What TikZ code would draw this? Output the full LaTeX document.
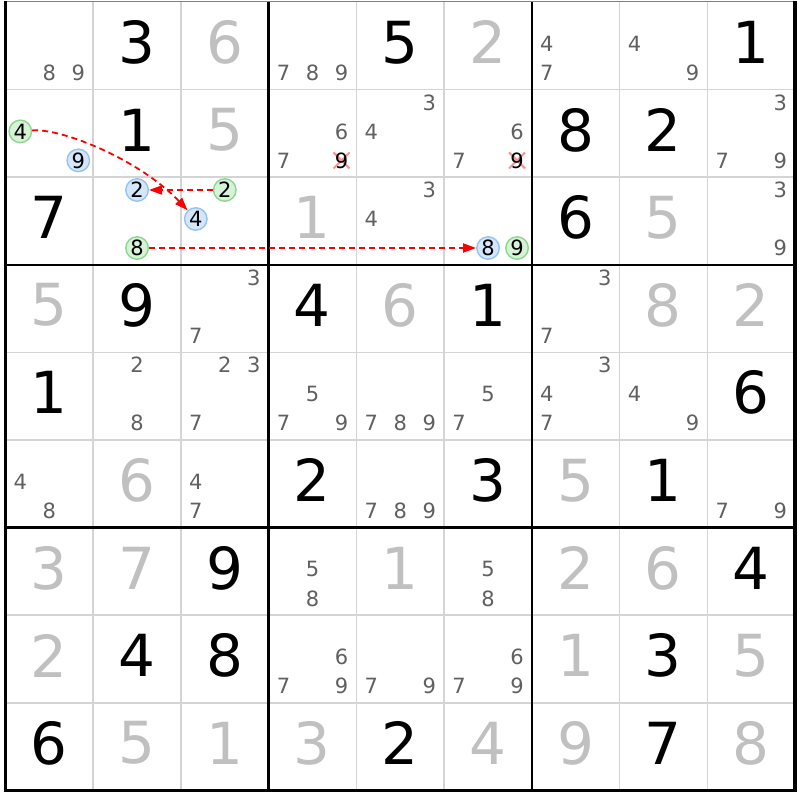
\documentclass[tikz,border=0pt]{standalone}
\usepackage{fontspec}
\setmainfont{DejaVu Sans}
\usetikzlibrary{arrows.meta}
\definecolor{solvd}{RGB}{192,192,192}
\definecolor{candc}{RGB}{96,96,96}
\definecolor{gridl}{RGB}{212,212,212}
\definecolor{gfill}{RGB}{215,243,215}
\definecolor{gdraw}{RGB}{140,215,140}
\definecolor{bfill}{RGB}{212,230,250}
\definecolor{bdraw}{RGB}{150,195,240}
\definecolor{xred}{RGB}{240,150,150}
\definecolor{linkred}{RGB}{255,0,0}
\newcommand{\cpos}[3]{%
  \pgfmathsetmacro\px{5.3+(#2-1)*87.75+15+29*mod(#3-1,3)}%
  \pgfmathsetmacro\py{2+(#1-1)*87.6+12.8+29*floor((#3-1)/3)}}
\newcommand{\cand}[4][cand]{\cpos{#2}{#3}{#4}\node[#1] (k#2#3#4) at (\px,\py) {#4};}
\newcommand{\givn}[4][given]{\node[#1] (v#2#3) at ({5.3+(#3-0.5)*87.75},{2+(#2-0.54)*87.6}) {#4};}
\newcommand{\xmark}[3]{\cpos{#1}{#2}{#3}\draw[xline] ({\px-8},{\py-8}) -- ({\px+8},{\py+8}) ({\px-8},{\py+8}) -- ({\px+8},{\py-8});}
\begin{document}
\begin{tikzpicture}[x=1pt,y=-1pt,
  given/.style={inner sep=0pt,font=\fontsize{58}{58}\selectfont,text=black},
  solved/.style={given,text=solvd},
  cand/.style={inner sep=0pt,font=\fontsize{21}{21}\selectfont,text=candc},
  elim/.style={cand,text=black},
  gcirc/.style={circle,draw=gdraw,fill=gfill,line width=1.4pt,minimum size=22.5pt,inner sep=0pt,font=\fontsize{21}{21}\selectfont,text=black},
  bcirc/.style={gcirc,draw=bdraw,fill=bfill},
  xline/.style={xred,line width=2pt},
  thinline/.style={gridl,line width=1.5pt},
  boxline/.style={black,line width=2.6pt},
  link/.style={linkred,line width=1.8pt,dash pattern=on 6pt off 4pt,-{Triangle[length=13pt,width=9pt]}}]
\useasboundingbox[fill=white] (0,0) rectangle (800,800);
% thin grid
\foreach \i in {1,2,4,5,7,8}{
  \draw[thinline] ({5.3+\i*87.75},2) -- ({5.3+\i*87.75},790.4);
  \draw[thinline] (5.3,{2+\i*87.6}) -- (795,{2+\i*87.6});
}
% box lines
\foreach \i in {3,6}{
  \draw[boxline] ({5.3+\i*87.75},2) -- ({5.3+\i*87.75},790.4);
  \draw[boxline] (5.3,{2+\i*87.6}) -- (795,{2+\i*87.6});
}
\draw[gray,line width=1pt] (5.3,2) -- (795,2);
\draw[black,line width=3.5pt] (5.3,1) -- (5.3,790.4) -- (795,790.4) -- (795,1);
% row 1
\cand{1}{1}{8}\cand{1}{1}{9}\givn{1}{2}{3}\givn[solved]{1}{3}{6}
\cand{1}{4}{7}\cand{1}{4}{8}\cand{1}{4}{9}\givn{1}{5}{5}\givn[solved]{1}{6}{2}
\cand{1}{7}{4}\cand{1}{7}{7}\cand{1}{8}{4}\cand{1}{8}{9}\givn{1}{9}{1}
% row 2
\cand[gcirc]{2}{1}{4}\cand[bcirc]{2}{1}{9}\givn{2}{2}{1}\givn[solved]{2}{3}{5}
\cand{2}{4}{6}\cand{2}{4}{7}\xmark{2}{4}{9}\cand[elim]{2}{4}{9}
\cand{2}{5}{3}\cand{2}{5}{4}
\cand{2}{6}{6}\cand{2}{6}{7}\xmark{2}{6}{9}\cand[elim]{2}{6}{9}
\givn{2}{7}{8}\givn{2}{8}{2}\cand{2}{9}{3}\cand{2}{9}{7}\cand{2}{9}{9}
% row 3
\givn{3}{1}{7}\cand[bcirc]{3}{2}{2}\cand[gcirc]{3}{2}{8}\cand[gcirc]{3}{3}{2}\cand[bcirc]{3}{3}{4}
\givn[solved]{3}{4}{1}\cand{3}{5}{3}\cand{3}{5}{4}\cand[bcirc]{3}{6}{8}\cand[gcirc]{3}{6}{9}
\givn{3}{7}{6}\givn[solved]{3}{8}{5}\cand{3}{9}{3}\cand{3}{9}{9}
% row 4
\givn[solved]{4}{1}{5}\givn{4}{2}{9}\cand{4}{3}{3}\cand{4}{3}{7}
\givn{4}{4}{4}\givn[solved]{4}{5}{6}\givn{4}{6}{1}
\cand{4}{7}{3}\cand{4}{7}{7}\givn[solved]{4}{8}{8}\givn[solved]{4}{9}{2}
% row 5
\givn{5}{1}{1}\cand{5}{2}{2}\cand{5}{2}{8}\cand{5}{3}{2}\cand{5}{3}{3}\cand{5}{3}{7}
\cand{5}{4}{5}\cand{5}{4}{7}\cand{5}{4}{9}\cand{5}{5}{7}\cand{5}{5}{8}\cand{5}{5}{9}
\cand{5}{6}{5}\cand{5}{6}{7}\cand{5}{7}{3}\cand{5}{7}{4}\cand{5}{7}{7}
\cand{5}{8}{4}\cand{5}{8}{9}\givn{5}{9}{6}
% row 6
\cand{6}{1}{4}\cand{6}{1}{8}\givn[solved]{6}{2}{6}\cand{6}{3}{4}\cand{6}{3}{7}
\givn{6}{4}{2}\cand{6}{5}{7}\cand{6}{5}{8}\cand{6}{5}{9}\givn{6}{6}{3}
\givn[solved]{6}{7}{5}\givn{6}{8}{1}\cand{6}{9}{7}\cand{6}{9}{9}
% row 7
\givn[solved]{7}{1}{3}\givn[solved]{7}{2}{7}\givn{7}{3}{9}\cand{7}{4}{5}\cand{7}{4}{8}
\givn[solved]{7}{5}{1}\cand{7}{6}{5}\cand{7}{6}{8}
\givn[solved]{7}{7}{2}\givn[solved]{7}{8}{6}\givn{7}{9}{4}
% row 8
\givn[solved]{8}{1}{2}\givn{8}{2}{4}\givn{8}{3}{8}\cand{8}{4}{6}\cand{8}{4}{7}\cand{8}{4}{9}
\cand{8}{5}{7}\cand{8}{5}{9}\cand{8}{6}{6}\cand{8}{6}{7}\cand{8}{6}{9}
\givn[solved]{8}{7}{1}\givn{8}{8}{3}\givn[solved]{8}{9}{5}
% row 9
\givn{9}{1}{6}\givn[solved]{9}{2}{5}\givn[solved]{9}{3}{1}\givn[solved]{9}{4}{3}\givn{9}{5}{2}
\givn[solved]{9}{6}{4}\givn[solved]{9}{7}{9}\givn{9}{8}{7}\givn[solved]{9}{9}{8}
% links
\draw[link] (k214) .. controls (62,128) and (140,160) .. (k334);
\draw[link] (k332) -- (k322);
\draw[link] (k328) -- (k368);
\end{tikzpicture}
\end{document}
